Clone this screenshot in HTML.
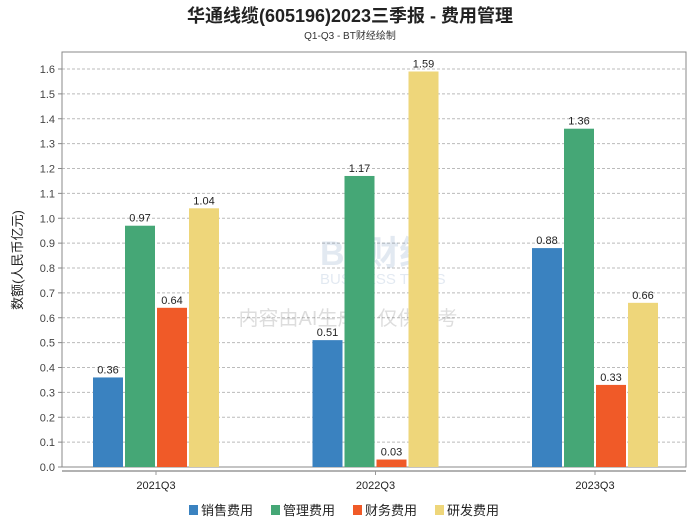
<!DOCTYPE html>
<html><head><meta charset="utf-8"><style>
body{margin:0;background:#fff;}
svg text{font-family:"Liberation Sans","Noto Sans CJK SC",sans-serif;}
</style></head><body>
<svg width="700" height="524" viewBox="0 0 700 524" xmlns="http://www.w3.org/2000/svg">
<text x="350" y="22" text-anchor="middle" font-size="18" font-weight="bold" fill="#222">华通线缆(605196)2023三季报 - 费用管理</text>
<text x="350" y="39" text-anchor="middle" font-size="10" fill="#333">Q1-Q3 - BT财经绘制</text>
<g id="grid"></g>
<rect x="62" y="52" width="624" height="415" fill="none" stroke="#888"/>
<line x1="62" y1="471" x2="686" y2="471" stroke="#999" stroke-width="1.5"/>
<g opacity="0.13">
<text x="320" y="265" font-size="34" font-weight="bold" fill="#2a5a9a" font-family="Liberation Serif, Noto Serif CJK SC, serif">BT财经</text>
<text x="320" y="284" font-size="15" fill="#2a5a9a">BUSINESS TIMES</text>
<text x="348" y="325" text-anchor="middle" font-size="20" fill="#000">内容由AI生成，仅供参考</text>
</g>
<g id="bars"></g>
<text transform="translate(22,260) rotate(-90)" text-anchor="middle" font-size="13" fill="#222">数额(人民币亿元)</text>
<g id="legend"></g>
</svg>
<script>
const categories = ["2021Q3","2022Q3","2023Q3"];
const seriesNames = ["销售费用","管理费用","财务费用","研发费用"];
const sales = [0.36,0.51,0.88];
const admin = [0.97,1.17,1.36];
const finance = [0.64,0.03,0.33];
const rnd = [1.04,1.59,0.66];
const yTicks = [0.0,0.1,0.2,0.3,0.4,0.5,0.6,0.7,0.8,0.9,1.0,1.1,1.2,1.3,1.4,1.5,1.6];
const colors = ["#3a82c0","#45a776","#f05a28","#eed67a"];
const NS="http://www.w3.org/2000/svg";
const y0=467, pxPer=248.75;
function yScale(v){return y0 - v*pxPer;}
function xCenter(i){return 156 + i*219.5;}
function mk(tag,attrs,parent){const e=document.createElementNS(NS,tag);for(const k in attrs)e.setAttribute(k,attrs[k]);parent.appendChild(e);return e;}
const grid=document.getElementById('grid'), svg=document.querySelector('svg');
yTicks.forEach(t=>{
  const y=yScale(t);
  if(t>0){const l=mk('line',{x1:62,x2:686,y1:y,y2:y,stroke:'#bbb','stroke-dasharray':'3,2'},grid);
  
  }
  mk('line',{x1:58,x2:62,y1:y,y2:y,stroke:'#888'},grid);
  const tx=mk('text',{x:55,y:y+4,'text-anchor':'end','font-size':'11',fill:'#444'},grid);
  tx.textContent=t.toFixed(1);
  
  
});
const bars=document.getElementById('bars');
const all=[sales,admin,finance,rnd];
categories.forEach((c,i)=>{
  const cx=xCenter(i);
  mk('line',{x1:cx,x2:cx,y1:471,y2:475,stroke:'#999'},bars);
  const lt=mk('text',{x:cx,y:489,'text-anchor':'middle','font-size':'11',fill:'#222'},bars);
  lt.textContent=c;
  
  
  all.forEach((s,j)=>{
    const v=s[i], x=cx-63+j*32, y=yScale(v);
    const r=mk('rect',{x:x,y:y,width:30,height:y0-y,fill:colors[j]},bars);
    
    
    const t=mk('text',{x:x+15,y:y-4,'text-anchor':'middle','font-size':'11',fill:'#222'},bars);
    t.textContent=v.toFixed(2);
    
    
  });
});
const lg=document.getElementById('legend');
const lx=[189,271,353,435];
seriesNames.forEach((n,j)=>{
  mk('rect',{x:lx[j],y:505,width:9,height:10,fill:colors[j]},lg);
  const t=mk('text',{x:lx[j]+12,y:515,'font-size':'13',fill:'#222'},lg);
  t.textContent=n;
  
  
});
</script>
</body></html>
